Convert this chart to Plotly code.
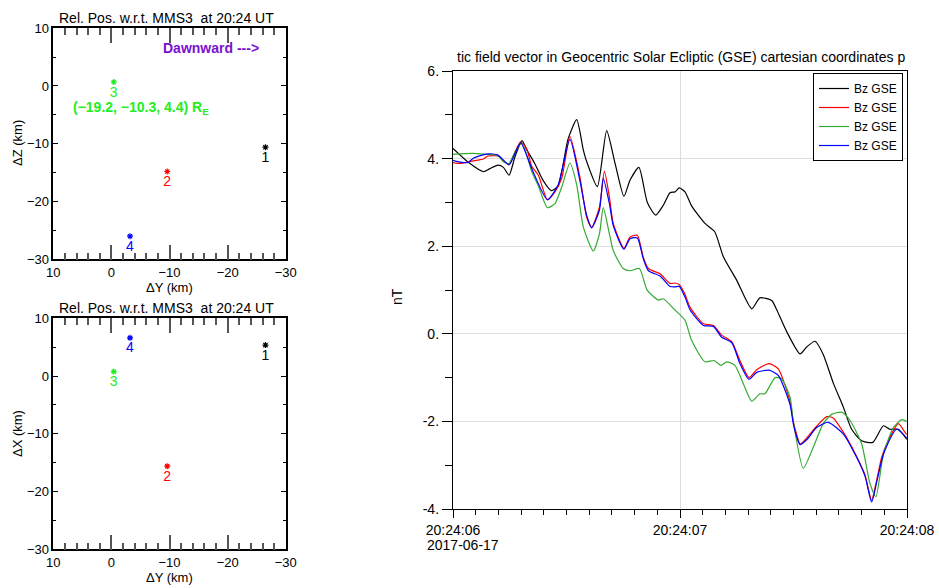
import plotly.graph_objects as go
import pandas as pd

# ---------------- Left panels: relative positions (km) w.r.t. MMS3 ----------------
sc_labels = ["1", "2", "3", "4"]
sc_colors = ["black", "red", "#22ee22", "blue"]
dY_km = [-26.5, -9.6, -0.4, -3.2]
dZ_km = [-10.6, -14.8, 0.7, -26.0]
dX_km = [5.35, -15.6, 0.76, 6.6]
pos_ticks = [10, 0, -10, -20, -30]

# ---------------- Right panel: Bz GSE (nT) vs seconds after 20:24:06 ----------------
t_black = [0.000, 0.066, 0.134, 0.163, 0.198, 0.222, 0.247, 0.273, 0.304, 0.325, 0.360, 0.396,
           0.433, 0.463, 0.507, 0.545, 0.574, 0.589, 0.636, 0.677, 0.714, 0.753, 0.780, 0.819,
           0.856, 0.893, 0.927, 0.956, 0.978, 0.997, 1.022, 1.051, 1.110, 1.153, 1.191, 1.250,
           1.316, 1.352, 1.404, 1.426, 1.470, 1.529, 1.558, 1.595, 1.631, 1.675, 1.720, 1.756,
           1.800, 1.849, 1.896, 1.925, 1.962, 1.999]
b_black = [4.23, 3.92, 3.70, 3.77, 3.85, 3.80, 3.62, 4.04, 4.41, 4.20, 3.89, 3.51,
           3.27, 3.38, 4.45, 4.89, 4.20, 3.93, 3.36, 4.64, 3.89, 3.14, 3.51, 3.80,
           3.00, 2.71, 2.94, 3.22, 3.24, 3.33, 3.24, 2.92, 2.52, 2.33, 1.76, 1.22,
           0.57, 0.82, 0.76, 0.55, 0.05, -0.46, -0.30, -0.17, -0.47, -1.12, -1.68, -2.18,
           -2.44, -2.48, -2.10, -2.18, -2.18, -2.41]

t_red = [0.000, 0.031, 0.090, 0.134, 0.154, 0.198, 0.247, 0.273, 0.298, 0.325, 0.347, 0.376,
         0.416, 0.449, 0.479, 0.515, 0.559, 0.589, 0.611, 0.645, 0.667, 0.689, 0.706, 0.753,
         0.780, 0.812, 0.838, 0.861, 0.912, 0.956, 0.978, 0.997, 1.022, 1.044, 1.103, 1.147,
         1.184, 1.228, 1.264, 1.304, 1.338, 1.392, 1.433, 1.485, 1.499, 1.514, 1.529, 1.558,
         1.602, 1.646, 1.675, 1.720, 1.734, 1.778, 1.815, 1.844, 1.866, 1.888, 1.910, 1.962,
         1.991, 1.999]
b_red = [3.91, 3.89, 3.95, 3.99, 4.06, 4.06, 3.86, 4.15, 4.38, 4.22, 3.82, 3.62,
         3.06, 3.24, 3.55, 4.50, 3.58, 2.66, 2.43, 2.89, 3.71, 3.12, 2.52, 1.95,
         2.21, 2.25, 1.75, 1.49, 1.37, 1.15, 1.16, 1.12, 0.90, 0.61, 0.23, 0.19,
         -0.03, -0.18, -0.61, -1.00, -0.82, -0.68, -0.80, -1.55, -2.00, -2.30, -2.52, -2.38,
         -2.11, -1.89, -1.92, -2.25, -2.37, -2.80, -3.22, -3.80, -3.35, -2.83, -2.52, -2.05,
         -2.25, -2.30]

t_green = [0.000, 0.031, 0.090, 0.134, 0.198, 0.222, 0.247, 0.273, 0.304, 0.347, 0.376, 0.416,
           0.449, 0.479, 0.515, 0.545, 0.574, 0.618, 0.645, 0.662, 0.689, 0.706, 0.750, 0.780,
           0.821, 0.856, 0.905, 0.927, 0.978, 1.022, 1.051, 1.110, 1.150, 1.181, 1.206, 1.242,
           1.279, 1.316, 1.352, 1.374, 1.419, 1.448, 1.485, 1.499, 1.543, 1.587, 1.631, 1.668,
           1.712, 1.749, 1.800, 1.837, 1.863, 1.896, 1.940, 1.977, 1.999]
b_green = [4.10, 4.11, 4.12, 4.10, 4.07, 3.93, 3.89, 4.15, 4.35, 3.70, 3.38, 2.88,
           2.97, 3.35, 3.90, 3.40, 2.44, 1.89, 2.28, 2.88, 2.28, 1.90, 1.49, 1.44,
           1.49, 0.99, 0.77, 0.80, 0.54, 0.31, -0.15, -0.64, -0.61, -0.72, -0.64, -0.72,
           -1.14, -1.54, -1.37, -1.37, -1.00, -1.03, -1.45, -2.00, -3.07, -2.59, -2.05, -1.84,
           -1.79, -1.98, -2.51, -3.42, -3.72, -2.75, -2.14, -1.96, -2.00]

t_blue = [0.000, 0.031, 0.066, 0.090, 0.154, 0.198, 0.247, 0.298, 0.347, 0.416, 0.463, 0.515,
          0.559, 0.589, 0.611, 0.645, 0.662, 0.689, 0.706, 0.753, 0.780, 0.812, 0.838, 0.861,
          0.912, 0.956, 0.978, 0.997, 1.022, 1.044, 1.103, 1.147, 1.184, 1.228, 1.264, 1.304,
          1.338, 1.392, 1.433, 1.485, 1.499, 1.514, 1.529, 1.558, 1.602, 1.653, 1.720, 1.778,
          1.815, 1.844, 1.866, 1.888, 1.902, 1.954, 1.999]
b_blue = [3.96, 3.92, 3.91, 4.01, 4.11, 4.08, 3.86, 4.36, 3.77, 3.06, 3.40, 4.44,
          3.50, 2.70, 2.42, 2.82, 3.55, 2.97, 2.47, 1.93, 2.17, 2.19, 1.72, 1.44,
          1.32, 1.08, 1.07, 1.08, 0.84, 0.55, 0.19, 0.17, -0.08, -0.20, -0.68, -1.04,
          -0.88, -0.83, -0.95, -1.62, -2.05, -2.35, -2.53, -2.42, -2.14, -2.02, -2.29, -2.82,
          -3.25, -3.84, -3.40, -2.90, -2.67, -2.18, -2.38]

series_names = ["Bz GSE", "Bz GSE", "Bz GSE", "Bz GSE"]
series_colors = ["black", "red", "#33aa33", "blue"]
b_ticks = [-4, -2, 0, 2, 4, 6]
b_ticktext = ["-4.", "-2.", "0.", "2.", "4.", "6."]
time_ticktext = ["20:24:06", "20:24:07", "20:24:08"]
date_text = "2017-06-17"

t0 = pd.Timestamp("2017-06-17 20:24:06")


def to_time(ts):
    return [t0 + pd.Timedelta(seconds=s) for s in ts]


FONT = "Liberation Sans, Arial, sans-serif"

fig = go.Figure()

# left panels
for ya, yv, xa in [("y", dZ_km, "x"), ("y2", dX_km, "x2")]:
    fig.add_trace(go.Scatter(
        x=dY_km, y=yv, mode="markers+text", text=sc_labels, textposition="bottom center",
        textfont=dict(color=sc_colors, size=14, family=FONT),
        marker=dict(symbol="asterisk", size=5, color=sc_colors,
                    line=dict(color=sc_colors, width=1.2)),
        xaxis=xa, yaxis=ya, showlegend=False, cliponaxis=False))

# right panel
for ts, bs, c, n in zip([t_black, t_red, t_green, t_blue], [b_black, b_red, b_green, b_blue],
                        series_colors, series_names):
    fig.add_trace(go.Scatter(x=to_time(ts), y=bs, mode="lines", name=n,
                             line=dict(color=c, width=1.2, shape="spline", smoothing=0.6),
                             xaxis="x3", yaxis="y3"))

W, H = 939, 588


def px(x):
    return x / W


def py(y):
    return 1 - y / H


pos_x_common = dict(range=[10, -30], tickvals=pos_ticks, ticks="inside", ticklen=15,
                    tickcolor="#555", tickwidth=1.5, showline=True, linecolor="black",
                    linewidth=1.5, mirror="ticks", showgrid=False, zeroline=False,
                    automargin=False,
                    minor=dict(dtick=2, tick0=0, ticks="inside", ticklen=7, tickcolor="#555",
                               tickwidth=1.5, showgrid=False),
                    tickfont=dict(size=13, family=FONT, color="black"))
pos_y_common = dict(range=[-30, 10], tickvals=pos_ticks, ticks="inside", ticklen=5,
                    tickcolor="black", tickwidth=1, showline=True, linecolor="black",
                    linewidth=1.5, mirror="ticks", showgrid=False, zeroline=False,
                    automargin=False,
                    minor=dict(dtick=5, tick0=0, ticks="inside", ticklen=3, tickcolor="black",
                               showgrid=False),
                    tickfont=dict(size=13, family=FONT, color="black"))

fig.update_layout(
    width=W, height=H, margin=dict(l=0, r=0, t=0, b=0, autoexpand=False),
    paper_bgcolor="white", plot_bgcolor="white",
    font=dict(family=FONT, color="black"),
    xaxis=dict(domain=[px(53.3), px(285.8)], anchor="y", **pos_x_common),
    yaxis=dict(domain=[py(259.3), py(28.2)], anchor="x", **pos_y_common),
    xaxis2=dict(domain=[px(53.3), px(285.8)], anchor="y2", **pos_x_common),
    yaxis2=dict(domain=[py(549.4), py(318.2)], anchor="x2", **pos_y_common),
    xaxis3=dict(domain=[px(453), px(907)], anchor="y3", type="date",
                range=[t0, t0 + pd.Timedelta(seconds=2)],
                tickvals=to_time([0, 1, 2]), ticktext=time_ticktext,
                ticks="outside", ticklen=8, tickcolor="black", showline=True,
                linecolor="black", linewidth=1.3, mirror=True, showgrid=True,
                gridcolor="#dddddd", gridwidth=1, zeroline=False, automargin=False,
                minor=dict(tickmode="linear", tick0=t0, dtick=100, ticks="outside",
                           ticklen=5, tickcolor="black", showgrid=False),
                tickfont=dict(size=14, family=FONT)),
    yaxis3=dict(domain=[py(509), py(71)], anchor="x3", range=[-4, 6],
                tickvals=b_ticks, ticktext=b_ticktext, ticks="outside", ticklen=10,
                tickcolor="black", showline=True, linecolor="black", linewidth=1.3,
                mirror=True, showgrid=True, gridcolor="#dddddd", gridwidth=1, zeroline=False,
                automargin=False,
                minor=dict(tickvals=[-3, -1, 1, 3, 5], ticks="outside", ticklen=7,
                           tickcolor="black", showgrid=False),
                tickfont=dict(size=14, family=FONT)),
    legend=dict(x=px(903), y=py(73), xanchor="right", yanchor="top", bgcolor="white",
                bordercolor="black", borderwidth=1, font=dict(size=12, family=FONT),
                itemwidth=30, tracegroupgap=0),
)


def note(x, y, text, size=13, color="black", angle=0, xanchor="center"):
    return dict(x=px(x), y=py(y), text=text, showarrow=False, xref="paper", yref="paper",
                xanchor=xanchor, yanchor="middle", textangle=angle,
                font=dict(size=size, family=FONT, color=color))


title_left = "Rel. Pos. w.r.t. MMS3\u00a0 at 20:24 UT"
ann = [
    note(166, 18, title_left, size=14),
    note(166, 308, title_left, size=14),
    note(169, 287, "\u0394Y (km)"),
    note(169, 577, "\u0394Y (km)"),
    note(17, 143, "\u0394Z (km)", angle=-90),
    note(17, 434, "\u0394X (km)", angle=-90),
    note(211, 48, "<b>Dawnward ---&gt;</b>", size=14, color="#7a10d0"),
    note(141, 108, "<b>(\u221219.2, \u221210.3, 4.4) R<sub>E</sub></b>", size=14, color="#22ee22"),
    note(681, 57, "tic field vector in Geocentric Solar Ecliptic (GSE) cartesian coordinates p",
         size=14),
    note(397, 297, "nT", size=14, angle=-90),
    note(425, 545, date_text, size=14, xanchor="left"),
]
fig.update_layout(annotations=ann)

fig.write_html("out.html")
